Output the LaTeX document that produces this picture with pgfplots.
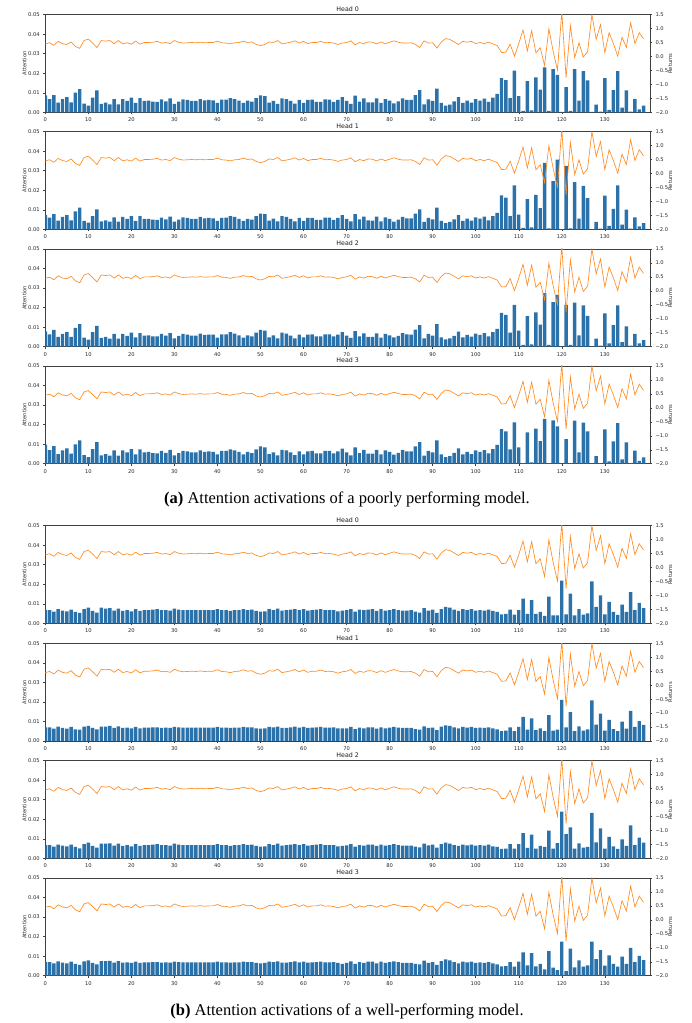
\documentclass[border=0pt]{standalone}
\usepackage{fontspec}
\setmainfont{Liberation Serif}
\newfontfamily\dvs{DejaVu Sans}
\usepackage{pgfplots}
\usepackage{pgfplotstable}
\pgfplotsset{compat=1.18}
\definecolor{tabblue}{HTML}{2C72AA}
\definecolor{taborange}{HTML}{FF8A1E}
\pgfplotstableread{
x a0 a1 a2 a3 b0 b1 b2 b3 r
0 0.0087 0.0073 0.0079 0.0097 0.0067 0.0070 0.0068 0.0070 0.45
1 0.0068 0.0060 0.0063 0.0070 0.0068 0.0070 0.0068 0.0070 0.49
2 0.0088 0.0078 0.0086 0.0090 0.0060 0.0063 0.0060 0.0063 0.40
3 0.0049 0.0044 0.0050 0.0049 0.0073 0.0073 0.0070 0.0073 0.54
4 0.0068 0.0063 0.0065 0.0068 0.0065 0.0067 0.0065 0.0067 0.46
5 0.0078 0.0072 0.0075 0.0078 0.0061 0.0063 0.0061 0.0063 0.43
6 0.0051 0.0046 0.0050 0.0051 0.0070 0.0072 0.0070 0.0072 0.52
7 0.0100 0.0092 0.0096 0.0099 0.0058 0.0060 0.0058 0.0060 0.36
8 0.0119 0.0111 0.0115 0.0119 0.0053 0.0058 0.0051 0.0056 0.29
9 0.0044 0.0043 0.0046 0.0044 0.0073 0.0073 0.0073 0.0073 0.57
10 0.0034 0.0034 0.0036 0.0034 0.0080 0.0078 0.0080 0.0079 0.62
11 0.0075 0.0068 0.0074 0.0075 0.0063 0.0067 0.0063 0.0066 0.48
12 0.0112 0.0102 0.0106 0.0111 0.0055 0.0060 0.0054 0.0058 0.32
13 0.0043 0.0041 0.0045 0.0043 0.0080 0.0073 0.0075 0.0074 0.57
14 0.0049 0.0046 0.0050 0.0049 0.0075 0.0073 0.0075 0.0074 0.55
15 0.0041 0.0039 0.0041 0.0041 0.0077 0.0077 0.0077 0.0076 0.57
16 0.0068 0.0061 0.0065 0.0068 0.0065 0.0067 0.0065 0.0067 0.46
17 0.0041 0.0039 0.0041 0.0041 0.0075 0.0075 0.0075 0.0075 0.57
18 0.0068 0.0063 0.0065 0.0068 0.0063 0.0067 0.0063 0.0067 0.45
19 0.0058 0.0053 0.0055 0.0058 0.0068 0.0068 0.0068 0.0068 0.49
20 0.0075 0.0068 0.0072 0.0075 0.0061 0.0065 0.0061 0.0065 0.44
21 0.0048 0.0043 0.0048 0.0048 0.0073 0.0072 0.0073 0.0072 0.55
22 0.0073 0.0068 0.0070 0.0073 0.0063 0.0065 0.0063 0.0065 0.44
23 0.0058 0.0053 0.0057 0.0058 0.0068 0.0068 0.0068 0.0068 0.50
24 0.0060 0.0053 0.0058 0.0060 0.0068 0.0068 0.0068 0.0068 0.50
25 0.0054 0.0049 0.0053 0.0054 0.0070 0.0070 0.0070 0.0070 0.51
26 0.0053 0.0048 0.0053 0.0053 0.0072 0.0070 0.0072 0.0070 0.54
27 0.0066 0.0060 0.0065 0.0066 0.0067 0.0067 0.0067 0.0067 0.48
28 0.0056 0.0051 0.0057 0.0056 0.0068 0.0068 0.0068 0.0068 0.50
29 0.0071 0.0065 0.0070 0.0071 0.0065 0.0067 0.0065 0.0067 0.46
30 0.0043 0.0039 0.0043 0.0043 0.0075 0.0072 0.0075 0.0072 0.57
31 0.0054 0.0049 0.0055 0.0054 0.0070 0.0070 0.0070 0.0070 0.51
32 0.0066 0.0061 0.0065 0.0066 0.0067 0.0068 0.0067 0.0068 0.48
33 0.0063 0.0058 0.0062 0.0063 0.0067 0.0068 0.0067 0.0068 0.49
34 0.0058 0.0053 0.0057 0.0058 0.0068 0.0068 0.0068 0.0068 0.50
35 0.0058 0.0053 0.0057 0.0058 0.0067 0.0068 0.0067 0.0068 0.49
36 0.0068 0.0063 0.0067 0.0068 0.0068 0.0068 0.0068 0.0068 0.51
37 0.0061 0.0056 0.0060 0.0061 0.0067 0.0068 0.0067 0.0068 0.49
38 0.0063 0.0058 0.0062 0.0063 0.0068 0.0068 0.0068 0.0068 0.50
39 0.0061 0.0056 0.0062 0.0061 0.0068 0.0068 0.0068 0.0068 0.50
40 0.0048 0.0043 0.0046 0.0048 0.0073 0.0072 0.0073 0.0072 0.55
41 0.0065 0.0058 0.0063 0.0065 0.0067 0.0068 0.0067 0.0068 0.49
42 0.0065 0.0060 0.0063 0.0065 0.0067 0.0068 0.0067 0.0068 0.48
43 0.0073 0.0068 0.0074 0.0073 0.0063 0.0067 0.0063 0.0067 0.45
44 0.0068 0.0063 0.0067 0.0068 0.0067 0.0068 0.0067 0.0068 0.49
45 0.0060 0.0053 0.0058 0.0060 0.0068 0.0068 0.0068 0.0068 0.50
46 0.0048 0.0043 0.0046 0.0048 0.0073 0.0072 0.0073 0.0072 0.55
47 0.0060 0.0053 0.0058 0.0060 0.0068 0.0070 0.0068 0.0070 0.50
48 0.0054 0.0049 0.0053 0.0054 0.0070 0.0070 0.0070 0.0070 0.52
49 0.0073 0.0068 0.0072 0.0073 0.0063 0.0065 0.0063 0.0065 0.43
50 0.0087 0.0080 0.0086 0.0089 0.0060 0.0063 0.0060 0.0063 0.39
51 0.0083 0.0077 0.0082 0.0083 0.0061 0.0065 0.0061 0.0065 0.43
52 0.0049 0.0044 0.0048 0.0049 0.0072 0.0072 0.0072 0.0072 0.52
53 0.0058 0.0055 0.0058 0.0058 0.0068 0.0070 0.0068 0.0070 0.50
54 0.0043 0.0041 0.0043 0.0043 0.0075 0.0073 0.0075 0.0073 0.57
55 0.0071 0.0067 0.0072 0.0071 0.0065 0.0067 0.0065 0.0067 0.45
56 0.0068 0.0063 0.0067 0.0068 0.0067 0.0067 0.0067 0.0067 0.48
57 0.0058 0.0053 0.0057 0.0058 0.0070 0.0070 0.0070 0.0070 0.51
58 0.0044 0.0041 0.0043 0.0044 0.0073 0.0073 0.0073 0.0073 0.56
59 0.0063 0.0058 0.0062 0.0063 0.0067 0.0068 0.0067 0.0068 0.48
60 0.0048 0.0043 0.0048 0.0048 0.0072 0.0072 0.0072 0.0072 0.54
61 0.0063 0.0058 0.0062 0.0063 0.0065 0.0067 0.0065 0.0067 0.46
62 0.0065 0.0058 0.0063 0.0065 0.0068 0.0068 0.0068 0.0068 0.50
63 0.0053 0.0048 0.0053 0.0053 0.0070 0.0070 0.0070 0.0070 0.50
64 0.0053 0.0048 0.0053 0.0053 0.0072 0.0072 0.0072 0.0072 0.54
65 0.0066 0.0060 0.0063 0.0066 0.0067 0.0068 0.0067 0.0068 0.49
66 0.0065 0.0060 0.0063 0.0065 0.0068 0.0068 0.0068 0.0068 0.50
67 0.0053 0.0048 0.0053 0.0053 0.0067 0.0070 0.0067 0.0070 0.48
68 0.0063 0.0058 0.0062 0.0063 0.0061 0.0065 0.0061 0.0065 0.43
69 0.0078 0.0072 0.0075 0.0077 0.0065 0.0065 0.0063 0.0061 0.48
70 0.0058 0.0053 0.0057 0.0058 0.0067 0.0065 0.0066 0.0065 0.50
71 0.0043 0.0041 0.0045 0.0043 0.0073 0.0072 0.0073 0.0073 0.56
72 0.0085 0.0077 0.0080 0.0084 0.0060 0.0061 0.0060 0.0060 0.42
73 0.0054 0.0051 0.0053 0.0054 0.0070 0.0068 0.0068 0.0070 0.50
74 0.0071 0.0065 0.0068 0.0071 0.0067 0.0065 0.0065 0.0066 0.46
75 0.0051 0.0046 0.0050 0.0051 0.0070 0.0070 0.0070 0.0072 0.52
76 0.0051 0.0044 0.0050 0.0051 0.0072 0.0070 0.0070 0.0072 0.51
77 0.0071 0.0065 0.0068 0.0071 0.0063 0.0063 0.0063 0.0063 0.45
78 0.0048 0.0041 0.0046 0.0048 0.0072 0.0070 0.0070 0.0072 0.52
79 0.0068 0.0061 0.0065 0.0068 0.0065 0.0065 0.0065 0.0066 0.46
80 0.0060 0.0053 0.0058 0.0060 0.0068 0.0068 0.0068 0.0070 0.51
81 0.0046 0.0039 0.0048 0.0046 0.0073 0.0072 0.0072 0.0073 0.56
82 0.0056 0.0049 0.0055 0.0056 0.0068 0.0068 0.0068 0.0070 0.51
83 0.0071 0.0063 0.0070 0.0071 0.0065 0.0067 0.0065 0.0066 0.48
84 0.0063 0.0056 0.0063 0.0063 0.0065 0.0067 0.0065 0.0066 0.48
85 0.0063 0.0056 0.0062 0.0063 0.0067 0.0067 0.0065 0.0066 0.49
86 0.0088 0.0080 0.0087 0.0088 0.0060 0.0061 0.0060 0.0061 0.43
87 0.0114 0.0102 0.0110 0.0111 0.0055 0.0058 0.0056 0.0058 0.32
88 0.0041 0.0038 0.0043 0.0041 0.0077 0.0075 0.0075 0.0077 0.56
89 0.0066 0.0058 0.0065 0.0066 0.0065 0.0067 0.0066 0.0066 0.48
90 0.0058 0.0051 0.0057 0.0058 0.0070 0.0068 0.0070 0.0070 0.49
91 0.0121 0.0111 0.0116 0.0119 0.0053 0.0056 0.0055 0.0056 0.30
92 0.0048 0.0043 0.0048 0.0048 0.0073 0.0073 0.0073 0.0075 0.52
93 0.0034 0.0032 0.0038 0.0034 0.0084 0.0080 0.0080 0.0084 0.64
94 0.0039 0.0038 0.0043 0.0039 0.0080 0.0077 0.0075 0.0078 0.61
95 0.0056 0.0051 0.0055 0.0056 0.0070 0.0070 0.0068 0.0070 0.52
96 0.0078 0.0072 0.0077 0.0078 0.0063 0.0065 0.0063 0.0063 0.43
97 0.0048 0.0043 0.0048 0.0048 0.0072 0.0072 0.0070 0.0072 0.54
98 0.0060 0.0055 0.0060 0.0060 0.0068 0.0068 0.0066 0.0068 0.51
99 0.0049 0.0044 0.0051 0.0049 0.0072 0.0072 0.0070 0.0072 0.54
100 0.0068 0.0061 0.0067 0.0068 0.0065 0.0067 0.0065 0.0066 0.46
101 0.0060 0.0055 0.0060 0.0060 0.0068 0.0068 0.0068 0.0068 0.50
102 0.0070 0.0065 0.0070 0.0070 0.0065 0.0067 0.0065 0.0066 0.46
103 0.0053 0.0046 0.0053 0.0053 0.0070 0.0070 0.0070 0.0070 0.51
104 0.0075 0.0068 0.0074 0.0075 0.0063 0.0065 0.0061 0.0063 0.45
105 0.0094 0.0084 0.0091 0.0096 0.0058 0.0060 0.0058 0.0058 0.39
106 0.0175 0.0174 0.0173 0.0177 0.0046 0.0051 0.0048 0.0048 0.14
107 0.0165 0.0162 0.0163 0.0166 0.0048 0.0053 0.0049 0.0049 0.15
108 0.0073 0.0067 0.0072 0.0073 0.0070 0.0070 0.0072 0.0070 0.44
109 0.0213 0.0225 0.0214 0.0212 0.0044 0.0051 0.0049 0.0046 0.01
110 0.0083 0.0075 0.0082 0.0083 0.0068 0.0072 0.0072 0.0072 0.46
111 0.0007 0.0007 0.0009 0.0003 0.0126 0.0123 0.0129 0.0119 0.95
112 0.0160 0.0154 0.0156 0.0160 0.0048 0.0058 0.0053 0.0053 0.20
113 0.0010 0.0010 0.0012 0.0007 0.0119 0.0116 0.0121 0.0116 0.92
114 0.0179 0.0176 0.0175 0.0179 0.0048 0.0056 0.0049 0.0048 0.13
115 0.0116 0.0108 0.0113 0.0116 0.0058 0.0065 0.0063 0.0061 0.31
116 0.0230 0.0340 0.0274 0.0229 0.0038 0.0051 0.0058 0.0032 -0.32
117 0.0007 0.0005 0.0009 0.0003 0.0137 0.0133 0.0141 0.0126 0.99
118 0.0221 0.0246 0.0228 0.0222 0.0041 0.0053 0.0049 0.0041 0.18
119 0.0192 0.0357 0.0265 0.0191 0.0041 0.0058 0.0078 0.0029 -0.49
120 0.0002 0.0001 0.0001 0.0001 0.0218 0.0210 0.0239 0.0175 1.60
121 0.0129 0.0324 0.0214 0.0126 0.0046 0.0070 0.0124 0.0024 -0.76
122 0.0007 0.0005 0.0009 0.0003 0.0152 0.0148 0.0158 0.0138 1.11
123 0.0221 0.0242 0.0226 0.0220 0.0041 0.0051 0.0049 0.0043 -0.04
124 0.0060 0.0055 0.0058 0.0058 0.0073 0.0075 0.0077 0.0078 0.49
125 0.0211 0.0222 0.0211 0.0210 0.0044 0.0053 0.0055 0.0046 -0.02
126 0.0163 0.0159 0.0158 0.0166 0.0051 0.0060 0.0058 0.0053 0.17
127 0.0002 0.0001 0.0001 0.0001 0.0215 0.0208 0.0233 0.0174 1.50
128 0.0039 0.0038 0.0041 0.0039 0.0084 0.0084 0.0082 0.0085 0.61
129 0.0003 0.0003 0.0005 0.0003 0.0143 0.0140 0.0153 0.0131 1.14
130 0.0175 0.0172 0.0171 0.0176 0.0046 0.0053 0.0049 0.0051 0.14
131 0.0012 0.0017 0.0017 0.0012 0.0109 0.0108 0.0109 0.0104 0.85
132 0.0114 0.0104 0.0110 0.0114 0.0058 0.0061 0.0061 0.0061 0.46
133 0.0211 0.0225 0.0212 0.0208 0.0043 0.0051 0.0048 0.0046 0.01
134 0.0024 0.0024 0.0024 0.0022 0.0096 0.0099 0.0097 0.0097 0.69
135 0.0112 0.0101 0.0104 0.0109 0.0058 0.0063 0.0063 0.0061 0.32
136 0.0003 0.0003 0.0005 0.0003 0.0160 0.0154 0.0169 0.0143 1.21
137 0.0068 0.0061 0.0065 0.0067 0.0067 0.0072 0.0068 0.0070 0.46
138 0.0015 0.0015 0.0017 0.0014 0.0104 0.0102 0.0106 0.0102 0.85
139 0.0034 0.0032 0.0034 0.0032 0.0078 0.0082 0.0080 0.0080 0.63
}\data

\pgfplotsset{
  panelbase/.style={
    scale only axis, width=604.7pt, height=97.7pt,
    xmin=0, xmax=140.5,
    anchor=south west,
    scaled ticks=false,
    tick align=outside,
    major tick length=2pt,
    tick style={black!75, line width=0.4pt},
    axis line style={black!75, line width=0.45pt},
    ticklabel style={font=\dvs\fontsize{5.2}{6}\selectfont, text=black!85},
    /pgf/number format/assume math mode=true,
    label style={font=\dvs\fontsize{5.2}{6}\selectfont, text=black!85},
    every axis title/.style={at={(axis description cs:0.5,1)}, anchor=base,
      yshift=3.2pt, font=\dvs\fontsize{6.3}{7}\selectfont, text=black!90},
  },
}

\newcommand{\panel}[3]{%
\begin{axis}[panelbase, at={(45.3pt,#1)},
  ymin=0, ymax=0.05,
  tick pos=left,
  xtick={0,10,20,30,40,50,60,70,80,90,100,110,120,130},
  ytick={0,0.01,0.02,0.03,0.04,0.05},
  yticklabels={0.00,0.01,0.02,0.03,0.04,0.05},
  ylabel={Attention},
  ylabel style={at={(axis description cs:-0.0347,0.5)}, anchor=center},
  title={#3},
]
\addplot[ybar, bar width=0.8, fill=tabblue, draw=none] table[x=x, y=#2] {\data};
\end{axis}
\begin{axis}[panelbase, at={(45.3pt,#1)},
  ymin=-2, ymax=1.5,
  axis y line*=right, axis x line=none,
  ytick={-2,-1.5,-1,-0.5,0,0.5,1,1.5},
  yticklabels={−2.0,−1.5,−1.0,−0.5,0.0,0.5,1.0,1.5},
  ylabel={Returns},
  ylabel style={at={(axis description cs:1.0336,0.5)}, anchor=center},
]
\addplot[taborange, line width=0.65pt, no markers] table[x=x, y=r] {\data};
\end{axis}%
}

\begin{document}
\begin{tikzpicture}
\useasboundingbox (0,0) rectangle (691pt,1023pt);
\panel{910.7pt}{a0}{Head 0}
\panel{793.7pt}{a1}{Head 1}
\panel{676.3pt}{a2}{Head 2}
\panel{559.3pt}{a3}{Head 3}
\node[anchor=base, inner sep=0pt, font=\fontsize{16.5}{19}\selectfont] at (347pt,519.5pt)
  {\textbf{(a)} Attention activations of a poorly performing model.};
\panel{399.7pt}{b0}{Head 0}
\panel{282pt}{b1}{Head 1}
\panel{164.7pt}{b2}{Head 2}
\panel{47.3pt}{b3}{Head 3}
\node[anchor=base, inner sep=0pt, font=\fontsize{16.5}{19}\selectfont] at (347pt,7.3pt)
  {\textbf{(b)} Attention activations of a well-performing model.};
\end{tikzpicture}
\end{document}
